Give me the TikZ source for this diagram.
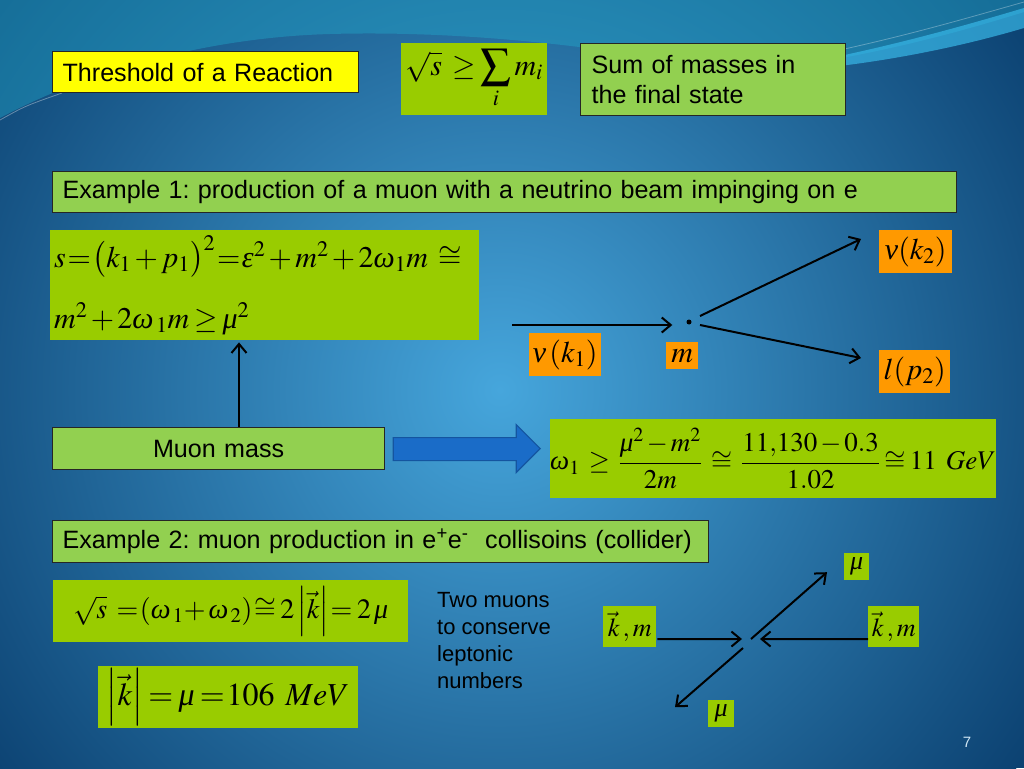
\documentclass[tikz,border=0pt]{standalone}
\usepackage{amsmath}
\usepackage{mathptmx}
\usepackage[no-math]{fontspec}
\setmainfont{Liberation Sans}
\newfontfamily\lserif{Liberation Serif}
\newcommand\grk[1]{\text{\lserif\itshape #1}}
\usetikzlibrary{arrows.meta}
\definecolor{ygreen}{HTML}{99CC00}
\definecolor{lgreen}{HTML}{92D050}
\definecolor{orng}{HTML}{FF9900}
\definecolor{yel}{HTML}{FFFF00}
\definecolor{bgin}{HTML}{46A6DC}
\definecolor{bgout}{HTML}{0C4272}
\definecolor{topteal}{HTML}{22A5C8}
\definecolor{swoosh}{HTML}{38B8E8}
\definecolor{arrblue}{HTML}{1A6CC8}
\definecolor{arrbord}{HTML}{1455A0}
\definecolor{pagenum}{HTML}{D0E6F4}
\tikzset{
  labbox/.style={draw=black!85, line width=1.2pt, fill=lgreen, anchor=north west,
    inner xsep=10pt, inner ysep=0pt, font=\fontsize{25.1}{30.7}\selectfont, align=left},
  formbox/.style={fill=ygreen, anchor=north west, inner sep=0pt},
  formtext/.style={anchor=base west, inner sep=0pt, font=\fontsize{30}{36}\selectfont},
  obox/.style={fill=orng, anchor=north west, inner sep=0pt, font=\fontsize{30}{36}\selectfont},
  gsmall/.style={fill=ygreen, anchor=north west, inner sep=0pt, font=\fontsize{26}{30}\selectfont},
  arr/.style={line width=2pt, -{Straight Barb[length=9pt,width=15pt,line width=2pt]}},
}
\begin{document}
\frenchspacing
\medmuskip=2mu
\thickmuskip=3mu
\begin{tikzpicture}[x=1pt,y=-1pt]
\useasboundingbox (0,0) rectangle (1024,768);
% background
\begin{scope}
\clip (0,0) rectangle (1024,768);
\fill[bgout] (0,0) rectangle (1024,768);
\shade[inner color=bgin, outer color=bgout] (500,390) circle (640);
\fill[topteal, opacity=0.45] (0,0) -- (0,118) .. controls (70,80) and (190,38) .. (330,34)
  .. controls (480,30) and (620,50) .. (740,72) .. controls (850,62) and (950,35) .. (1024,12)
  -- (1024,0) -- cycle;
\fill[swoosh, opacity=0.7] (740,74) .. controls (850,58) and (950,30) .. (1024,8)
  -- (1024,28) .. controls (950,50) and (850,70) .. (740,74) -- cycle;
\draw[white, opacity=0.35, line width=0.8pt] (0,120) .. controls (25,106) .. (62,93);
\draw[white, opacity=0.3, line width=0.8pt] (770,64) .. controls (880,44) and (960,20) .. (1024,2);
\end{scope}

% top row
\node[labbox, fill=yel, minimum width=306pt, minimum height=41pt, text width=286pt] (thr) at (52,51) {\mbox{Threshold of a Reaction}};
\node[formbox, minimum width=146pt, minimum height=72pt, font=\fontsize{30}{36}\selectfont] (f0) at (401,43) {$\sqrt{s}\;\ge\displaystyle\sum_i m_i$};
\node[labbox, minimum width=265pt, minimum height=72pt, text width=243pt, inner xsep=11pt] (sum) at (580,43) {Sum of masses in\\the final state};

% example 1
\node[labbox, minimum width=904pt, minimum height=41pt, text width=884pt] (ex1) at (52,171) {\mbox{Example 1: production of a muon with a neutrino beam impinging on e}};
\node[formbox, minimum width=429pt, minimum height=110pt] (f1) at (50,230) {};
\node[formtext] (f1a) at (54,267) {$s\!=\!\bigl(k_1+p_1\bigr)^{2}\!=\!\grk{ε}^{2}+m^{2}+2\grk{ω}_1 m\;\cong$};
\node[formtext] (f1b) at (54,328) {$m^{2}+2\grk{ω}_{\,1}m\ge\grk{μ}^{2}$};

\node[labbox, minimum width=332pt, minimum height=42pt, text width=312pt, align=center] (muon) at (52,427) {Muon mass};
\node[formbox, minimum width=445pt, minimum height=79pt, font=\fontsize{27}{33}\selectfont] (w) at (550,419)
  {$\displaystyle\grk{ω}_1\;\ge\;\frac{\grk{μ}^2-m^2}{2m}\;\cong\;\frac{11{,}130-0.3}{1.02}\cong 11\;\;GeV$};

\draw[arr] ([xshift=187pt]muon.north west) -- ([xshift=189pt,yshift=-2pt]f1.south west);
\draw[draw=arrbord, fill=arrblue, line width=1.2pt] ([xshift=8pt,yshift=11pt]muon.east) -- ++(123,0) -- ++(0,-13) -- ++(24,24) -- ++(-24,24) -- ++(0,-12) -- ++(-123,0) -- cycle;

% neutrino diagram
\node[obox, minimum width=72pt, minimum height=43pt] (nu1) at (529,333) {$\grk{ν}\,(k_1)$};
\node[obox, minimum width=32pt, minimum height=27pt] (mm) at (666,342) {$m$};
\node[obox, minimum width=73pt, minimum height=43pt] (nu2) at (879,230) {$\grk{ν}(k_2)$};
\node[obox, minimum width=71pt, minimum height=43pt] (lp) at (879,350) {$l(p_2)$};
\node[circle, fill=black, inner sep=0pt, minimum size=5pt] (dot) at (689,322) {};
\coordinate (nstart) at (512,325);
\draw[arr] (nstart) -- ([xshift=-14pt]nstart -| dot.west);
\draw[arr] ([xshift=11pt,yshift=6pt]dot.center) -- ([xshift=-18pt,yshift=-9pt]nu2.north west);
\draw[arr] ([xshift=11pt,yshift=-3pt]dot.center) -- ([xshift=-18pt,yshift=-8pt]lp.north west);

% example 2
\node[labbox, minimum width=656pt, minimum height=42pt, text width=636pt] (ex2) at (52,520) {\mbox{Example 2: muon production in e\textsuperscript{+}e\textsuperscript{-}\ \ collisoins (collider)}};
\node[formbox, minimum width=355pt, minimum height=62pt, font=\fontsize{28}{34}\selectfont] (f2) at (53,580)
  {$\sqrt{s}\;=\!(\grk{ω}_{\,1}\!+\grk{ω}_{\,2})\!\cong 2\left|\vec{k}\right|\!= 2\,\grk{μ}$};
\node[formbox, minimum width=260pt, minimum height=62pt, font=\fontsize{32}{38}\selectfont] (f3) at (98,666)
  {$\left|\vec{k}\right|=\grk{μ}=\!106\;\;MeV$};
\node[anchor=north west, inner sep=0pt, align=left, font=\fontsize{22}{26.7}\selectfont] (two) at (437,592.6)
  {Two muons\\to conserve\\leptonic\\numbers};

% collider diagram
\node[gsmall, minimum width=53pt, minimum height=41pt] (km1) at (603,606) {$\vec{k}\,,m$};
\node[gsmall, minimum width=51pt, minimum height=41pt] (km2) at (868,606) {$\vec{k}\,,m$};
\node[gsmall, minimum width=25pt, minimum height=27pt] (mu1) at (844,553) {$\grk{μ}$};
\node[gsmall, minimum width=26pt, minimum height=27pt] (mu2) at (708,700) {$\grk{μ}$};
\coordinate (cL) at (742,639);
\coordinate (cR) at (760,639);
\coordinate (cU) at (751,639);
\coordinate (cD) at (743,648);
\draw[arr] ([xshift=1pt,yshift=-12.5pt]km1.east) -- (cL);
\draw[arr] ([yshift=-12.5pt]km2.west) -- (cR);
\draw[arr] (cU) -- ([xshift=-17pt,yshift=-5.5pt]mu1.west);
\draw[arr] (cD) -- ([xshift=-33pt,yshift=6.5pt]mu2.west);

\node[text=pagenum, font=\fontsize{15}{18}\selectfont] (pg) at (967,742) {7};
\end{tikzpicture}
\end{document}
